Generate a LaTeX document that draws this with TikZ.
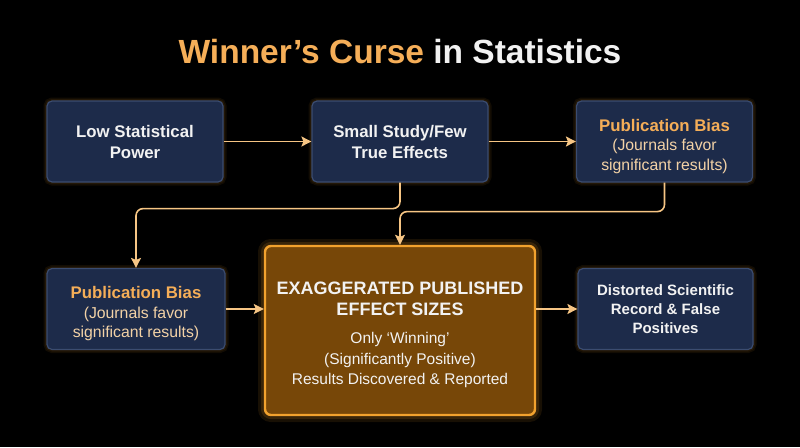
\documentclass[tikz,border=0pt]{standalone}
\usepackage{fontspec}
\setmainfont{Liberation Sans}
\usetikzlibrary{positioning,calc,arrows.meta}
\definecolor{navy}{HTML}{1D2B4A}
\definecolor{navyline}{HTML}{3B4C70}
\definecolor{amber}{HTML}{F2A22E}
\definecolor{amberfill}{HTML}{774708}
\definecolor{peach}{HTML}{F6C584}
\definecolor{titleorange}{HTML}{F5AE58}
\definecolor{offwhite}{HTML}{F2F2F2}
\definecolor{biasnote}{HTML}{F3D2A6}
\newcommand{\lift}[1]{\rule{0pt}{#1}}

\begin{document}
\begin{tikzpicture}[x=1pt, y=-1pt, >={Stealth[length=10pt,width=10pt,inset=2pt]},
  every node/.style={text=offwhite, align=center},
  box/.style={rounded corners=5pt, fill=navy, draw=navyline, line width=1.2pt,
    minimum width=176pt, minimum height=81pt, inner sep=2pt,
    preaction={draw=amber, line width=7pt, draw opacity=0.08},
    preaction={draw=amber, line width=4pt, draw opacity=0.08}},
  corebox/.style={rounded corners=6pt, fill=amberfill, draw=amber, line width=2.4pt,
    minimum width=270pt, minimum height=169pt, inner sep=2pt,
    preaction={draw=amber, line width=14pt, draw opacity=0.10},
    preaction={draw=amber, line width=8pt, draw opacity=0.15}},
  flow/.style={->, draw=peach, line width=1.6pt},
  head/.style={font=\fontsize{16.8}{21}\selectfont\bfseries},
  bias/.style={font=\fontsize{15.8}{19.5}\selectfont, text=biasnote}]

\fill[black] (0,0) rectangle (800,447);
\useasboundingbox (0,0) rectangle (800,447);

\node[font=\fontsize{33.5}{38}\selectfont\bfseries] (title) at (400,52)
  {\textcolor{titleorange}{Winner’s Curse} in Statistics};

% top row
\node[box, head] (low) at (135,141.5) {Low Statistical\\Power};
\node[box, head] (small) at (400,141.5) {Small Study/Few\\True Effects};
\node[box, bias] (pubtop) at (664.5,141.5)
  {\lift{22pt}\textcolor{titleorange}{\fontsize{16.8}{21}\selectfont\bfseries Publication Bias}\\
   (Journals favor\\significant results)};

% bottom row
\node[box, bias, minimum width=178pt] (publow) at (136,309)
  {\lift{22pt}\textcolor{titleorange}{\fontsize{16.8}{21}\selectfont\bfseries Publication Bias}\\
   (Journals favor\\significant results)};
\node[corebox, font=\fontsize{15.5}{20.5}\selectfont] (core) at (400,330.5)
  {\lift{22pt}{\fontsize{18}{22}\selectfont\bfseries EXAGGERATED PUBLISHED}\\
   {\fontsize{18}{22}\selectfont\bfseries EFFECT SIZES}\\[8pt]
   Only ‘Winning’\\(Significantly Positive)\\Results Discovered \& Reported};
\node[box, minimum width=175pt, font=\fontsize{15}{19}\selectfont\bfseries] (record) at (665.5,309)
  {Distorted Scientific\\Record \& False\\Positives};

\draw[flow] (low) -- (small);
\draw[flow] (small) -- (pubtop);
\draw[flow, rounded corners=7pt] (small.south) -- ++(0,26) -| (publow.north);
\draw[flow, rounded corners=7pt] (pubtop.south) -- ++(0,29) -| (core.north);
\draw[flow] (publow) -- (publow -| core.west);
\draw[flow] (core.east |- record) -- (record);

\end{tikzpicture}
\end{document}
